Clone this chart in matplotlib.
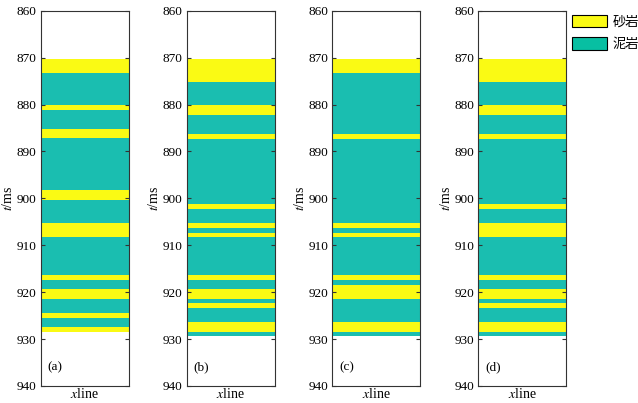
import matplotlib
matplotlib.use("Agg")
import matplotlib.pyplot as plt
from matplotlib.patches import Patch

plt.rcParams['font.family'] = ['Liberation Serif', 'Noto Sans CJK SC', 'DejaVu Sans']
plt.rcParams['mathtext.fontset'] = 'stix'

# Layer boundaries (ms) per panel; lithology codes: 1 = sand (砂岩), 0 = mud (泥岩)
bounds_a = [870.25, 873.2, 880.2, 881.25, 885.2, 887.2, 898.2, 900.4, 905.3, 908.3,
            916.4, 917.4, 919.3, 921.5, 924.4, 925.5, 927.4, 928.5]
lith_a = [1, 0, 1, 0, 1, 0, 1, 0, 1, 0, 1, 0, 1, 0, 1, 0, 1]

bounds_b = [870.25, 875.2, 880.2, 882.2, 886.2, 887.3, 901.3, 902.3, 905.3, 906.3,
            907.3, 908.3, 916.4, 917.4, 919.3, 921.4, 922.3, 923.3, 926.4, 928.4, 929.4]
lith_b = [1, 0, 1, 0, 1, 0, 1, 0, 1, 0, 1, 0, 1, 0, 1, 0, 1, 0, 1, 0]

bounds_c = [870.25, 873.2, 886.2, 887.3, 905.3, 906.3, 907.3, 908.3, 916.4, 917.4,
            918.4, 921.4, 926.4, 928.4, 929.4]
lith_c = [1, 0, 1, 0, 1, 0, 1, 0, 1, 0, 1, 0, 1, 0]

bounds_d = [870.25, 875.2, 880.2, 882.2, 886.2, 887.3, 901.3, 902.3, 905.3, 908.3,
            916.4, 917.4, 919.3, 921.4, 922.3, 923.3, 926.4, 928.4, 929.4]
lith_d = [1, 0, 1, 0, 1, 0, 1, 0, 1, 0, 1, 0, 1, 0, 1, 0, 1, 0]

panel_labels = ['(a)', '(b)', '(c)', '(d)']
yticks = [860, 870, 880, 890, 900, 910, 920, 930, 940]
legend_labels = ['砂岩', '泥岩']

SAND = '#FAFA14'
MUD = '#1ABEB0'
colors = {1: SAND, 0: MUD}

fig = plt.figure(figsize=(6.38, 4.03), dpi=100)
lefts = [40.7, 186.7, 332.3, 478.3]
W, H = 638.0, 403.0
ax_w = 88.0 / W
ax_b = 1 - 386.0 / H
ax_h = (386.0 - 10.7) / H

panels = [(bounds_a, lith_a), (bounds_b, lith_b), (bounds_c, lith_c), (bounds_d, lith_d)]
for i, (bounds, lith) in enumerate(panels):
    ax = fig.add_axes([lefts[i] / W, ax_b, ax_w, ax_h])
    for j, code in enumerate(lith):
        top, bot = bounds[j], bounds[j + 1]
        ax.barh((top + bot) / 2, 1.0, height=bot - top, left=0, color=colors[code],
                edgecolor='none', linewidth=0)
    ax.set_xlim(0, 1)
    ax.set_ylim(940, 860)
    ax.set_yticks(yticks)
    ax.set_xticks([])
    ax.tick_params(axis='y', direction='in', length=3, left=True, right=True,
                   labelsize=9.5, pad=3, color='#333333', width=0.8)
    for sp in ax.spines.values():
        sp.set_color('#333333')
        sp.set_linewidth(0.8)
    ax.set_ylabel('$t$/ms', fontsize=10, labelpad=1)
    ax.set_xlabel('$x$line', fontsize=10, labelpad=1)
    ax.text(0.08, 0.035, panel_labels[i], transform=ax.transAxes, fontsize=9.5,
            ha='left', va='bottom')

handles = [Patch(facecolor=SAND, edgecolor='black', linewidth=0.8),
           Patch(facecolor='#08BFA2', edgecolor='black', linewidth=0.8)]
fig.legend(handles, legend_labels, loc='upper left', bbox_to_anchor=(569 / W, 1 - 12 / H),
           frameon=False, fontsize=9.5, handlelength=2.7, handleheight=1.05,
           handletextpad=0.4, labelspacing=0.7, borderaxespad=0, borderpad=0.2)

fig.savefig('out.png', dpi=100)
